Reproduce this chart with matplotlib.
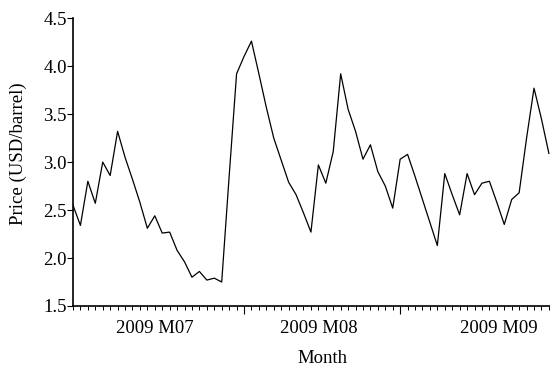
import numpy as np
import pandas as pd
import matplotlib
matplotlib.use('Agg')
import matplotlib.pyplot as plt

# daily prices, business days from 2009-07-01
prices = [2.55, 2.34, 2.80, 2.57, 3.00, 2.86, 3.32, 3.05, 2.82, 2.58,
          2.31, 2.44, 2.26, 2.27, 2.08, 1.96, 1.80, 1.86, 1.77, 1.79,
          1.75, 2.85, 3.92, 4.10, 4.26, 3.92, 3.57, 3.25, 3.02, 2.79,
          2.66, 2.47, 2.27, 2.97, 2.78, 3.11, 3.92, 3.55, 3.32, 3.03,
          3.18, 2.90, 2.75, 2.52, 3.03, 3.08, 2.85, 2.61, 2.37, 2.13,
          2.88, 2.66, 2.45, 2.88, 2.66, 2.78, 2.80, 2.58, 2.35, 2.61,
          2.68, 3.25, 3.77, 3.45, 3.09]
month_labels = ['2009 M07', '2009 M08', '2009 M09']
yticks = [1.5, 2.0, 2.5, 3.0, 3.5, 4.0, 4.5]

dates = pd.bdate_range('2009-07-01', periods=len(prices))
idx = np.arange(len(prices))
months = dates.month
bounds = idx[1:][months[1:] != months[:-1]]  # first obs of each new month
label_pos = [11, 33, 57.2]

plt.rcParams['font.family'] = ['Liberation Serif', 'DejaVu Serif']
fs = 13.5

fig = plt.figure(figsize=(5.5, 3.7), dpi=100)
ax = fig.add_axes([0.1327, 0.173, 0.8673, 0.778])
ax.plot(idx, prices, color='black', lw=0.9)

ax.set_xlim(0, 64.15)
ax.set_ylim(1.5, 4.5)
ax.set_yticks(yticks)
ax.set_yticklabels(['%.1f' % v for v in yticks], fontsize=fs)
ax.tick_params(axis='y', direction='out', length=4, width=0.8, pad=0.5)

# x axis: minor tick each obs, major tick at month start, labels mid-month
ax.set_xticks(bounds)
ax.set_xticklabels([])
ax.set_xticks(idx, minor=True)
ax.tick_params(axis='x', which='major', direction='out', length=6, width=0.8)
ax.tick_params(axis='x', which='minor', direction='out', length=3, width=0.7)
for pos, lab in zip(label_pos, month_labels):
    ax.text(pos, -0.077, lab, transform=ax.get_xaxis_transform(),
            ha='center', va='center', fontsize=fs)

ax.spines['top'].set_visible(False)
ax.spines['right'].set_visible(False)
ax.spines['left'].set_linewidth(1.2)
ax.spines['bottom'].set_linewidth(1.2)

fig.text(0.587, 0.032, 'Month', ha='center', va='center', fontsize=fs)
fig.text(0.033, 0.584, 'Price (USD/barrel)', ha='center', va='center',
         rotation=90, fontsize=fs)

fig.savefig('out.png', dpi=100)
